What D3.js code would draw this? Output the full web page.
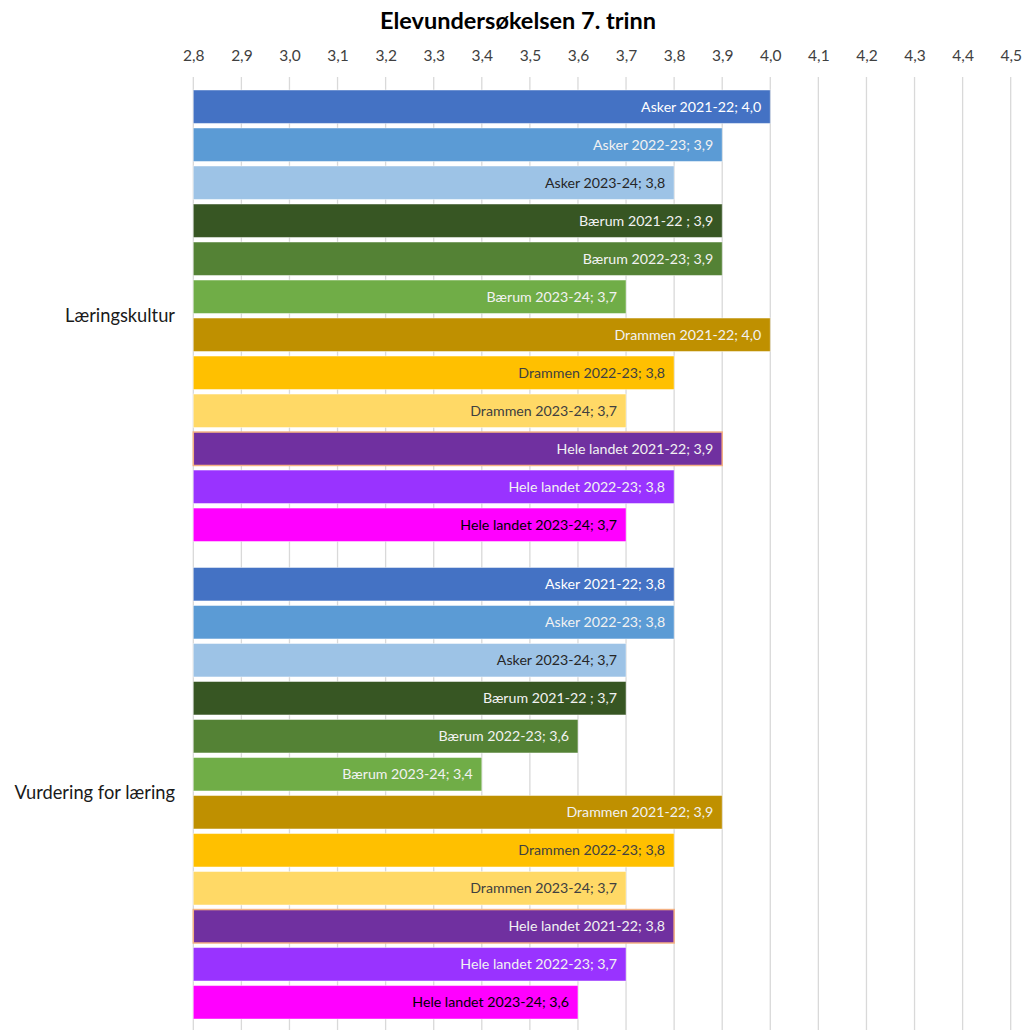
<!DOCTYPE html>
<html>
<head>
<meta charset="utf-8">
<script src="https://cdn.jsdelivr.net/npm/d3@7"></script>
<style>
  html, body { margin: 0; padding: 0; background: #fff; }
  svg { display: block; font-family: Lato, "Open Sans", sans-serif; }
</style>
</head>
<body>
<script>
const title = "Elevundersøkelsen 7. trinn";
const categories = ["Læringskultur", "Vurdering for læring"];
const seriesNames = [
  "Asker 2021-22", "Asker 2022-23", "Asker 2023-24",
  "Bærum 2021-22 ", "Bærum 2022-23", "Bærum 2023-24",
  "Drammen 2021-22", "Drammen 2022-23", "Drammen 2023-24",
  "Hele landet 2021-22", "Hele landet 2022-23", "Hele landet 2023-24"
];
const valuesLaeringskultur = [4.0, 3.9, 3.8, 3.9, 3.9, 3.7, 4.0, 3.8, 3.7, 3.9, 3.8, 3.7];
const valuesVurdering = [3.8, 3.8, 3.7, 3.7, 3.6, 3.4, 3.9, 3.8, 3.7, 3.8, 3.7, 3.6];
const tickValues = [2.8, 2.9, 3.0, 3.1, 3.2, 3.3, 3.4, 3.5, 3.6, 3.7, 3.8, 3.9, 4.0, 4.1, 4.2, 4.3, 4.4, 4.5];

const seriesColors = ["#4472C4", "#5B9BD5", "#9DC3E6", "#375623", "#548235", "#70AD47",
  "#BF9000", "#FFC000", "#FFD966", "#7030A0", "#9933FF", "#FF00FF"];
const labelColors = ["#ffffff", "#f2f2f2", "#262626", "#f2f2f2", "#f2f2f2", "#f2f2f2",
  "#f2f2f2", "#404040", "#404040", "#f2f2f2", "#f2f2f2", "#000000"];

const W = 1026, H = 1030;
const fmt = v => d3.format(".1f")(v).replace(".", ",");

const svg = d3.select("body").append("svg").attr("width", W).attr("height", H);

const x = d3.scaleLinear().domain([2.8, 4.5]).range([193.3, 1010.7]);
const y = d3.scaleBand().domain(categories).range([77, 1032]).paddingInner(0).paddingOuter(0);
const yInner = d3.scaleBand().domain(d3.range(seriesNames.length))
  .range([13, y.bandwidth() - 13]).paddingInner(0.12).paddingOuter(0);

// title
svg.append("text").attr("x", 518).attr("y", 29).attr("text-anchor", "middle")
  .attr("font-size", 23.5).attr("font-weight", "bold").attr("fill", "#000").text(title);

// grid lines
svg.append("g").selectAll("line").data(tickValues).join("line")
  .attr("x1", d => x(d)).attr("x2", d => x(d))
  .attr("y1", 77).attr("y2", H)
  .attr("stroke", "#d9d9d9").attr("stroke-width", 1.3);

// top axis
const axis = d3.axisTop(x).tickValues(tickValues).tickFormat(fmt).tickSize(0).tickPadding(0);
const ax = svg.append("g").attr("transform", "translate(0,61)").call(axis);
ax.select(".domain").remove();
ax.selectAll("text").attr("font-size", 15.5).attr("fill", "#404040").attr("font-family", "Lato, sans-serif");

// category labels
svg.append("g").selectAll("text").data(categories).join("text")
  .attr("x", 175).attr("y", d => y(d) + y.bandwidth() / 2 + 6)
  .attr("text-anchor", "end").attr("font-size", 18.3).attr("fill", "#1a1a1a").text(d => d);

const dataByCat = [valuesLaeringskultur, valuesVurdering];
const rows = [];
categories.forEach((c, ci) => {
  dataByCat[ci].forEach((v, si) => rows.push({ cat: c, si, v }));
});

const bars = svg.append("g");
bars.selectAll("rect").data(rows).join("rect")
  .attr("x", x(2.8))
  .attr("y", d => y(d.cat) + yInner(d.si))
  .attr("width", d => x(d.v) - x(2.8))
  .attr("height", yInner.bandwidth())
  .attr("fill", d => seriesColors[d.si])
  .attr("stroke", d => d.si === 9 ? "#F4B183" : "rgba(255,255,255,0.45)")
  .attr("stroke-width", d => d.si === 9 ? 1.5 : 1);

bars.selectAll("text").data(rows).join("text")
  .attr("x", d => x(d.v) - 9)
  .attr("y", d => y(d.cat) + yInner(d.si) + yInner.bandwidth() / 2 + 5)
  .attr("text-anchor", "end").attr("font-size", 14.2)
  .style("white-space", "pre")
  .attr("fill", d => labelColors[d.si])
  .text(d => seriesNames[d.si] + "; " + fmt(d.v));
</script>
</body>
</html>
